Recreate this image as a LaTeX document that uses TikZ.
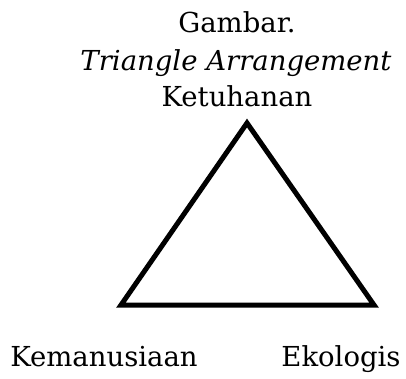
\documentclass[tikz,border=0pt]{standalone}
\usepackage{fontspec}
\setmainfont{DejaVu Serif}
\usetikzlibrary{positioning}

\begin{document}
\begin{tikzpicture}[
    x=1pt, y=1pt,
    label/.style={inner sep=0pt, anchor=base, font=\fontsize{27.5}{32}\selectfont},
    side/.style={line width=5pt, line join=miter}
]
\useasboundingbox (0,0) rectangle (406,378);
\node[label] (title) at (237,345) {Gambar.};
\node[label] (sub) at (236,307) {\itshape Triangle Arrangement};
\node[label] (top) at (237,271) {Ketuhanan};
\node[label] (left) at (104,12) {Kemanusiaan};
\node[label] (right) at (341,12) {Ekologis};
\coordinate (apex) at (247,255);
\coordinate (bl) at (121,73);
\coordinate (br) at (374,73);
\draw[side] (apex) -- (bl) -- (br) -- cycle;
\end{tikzpicture}
\end{document}
